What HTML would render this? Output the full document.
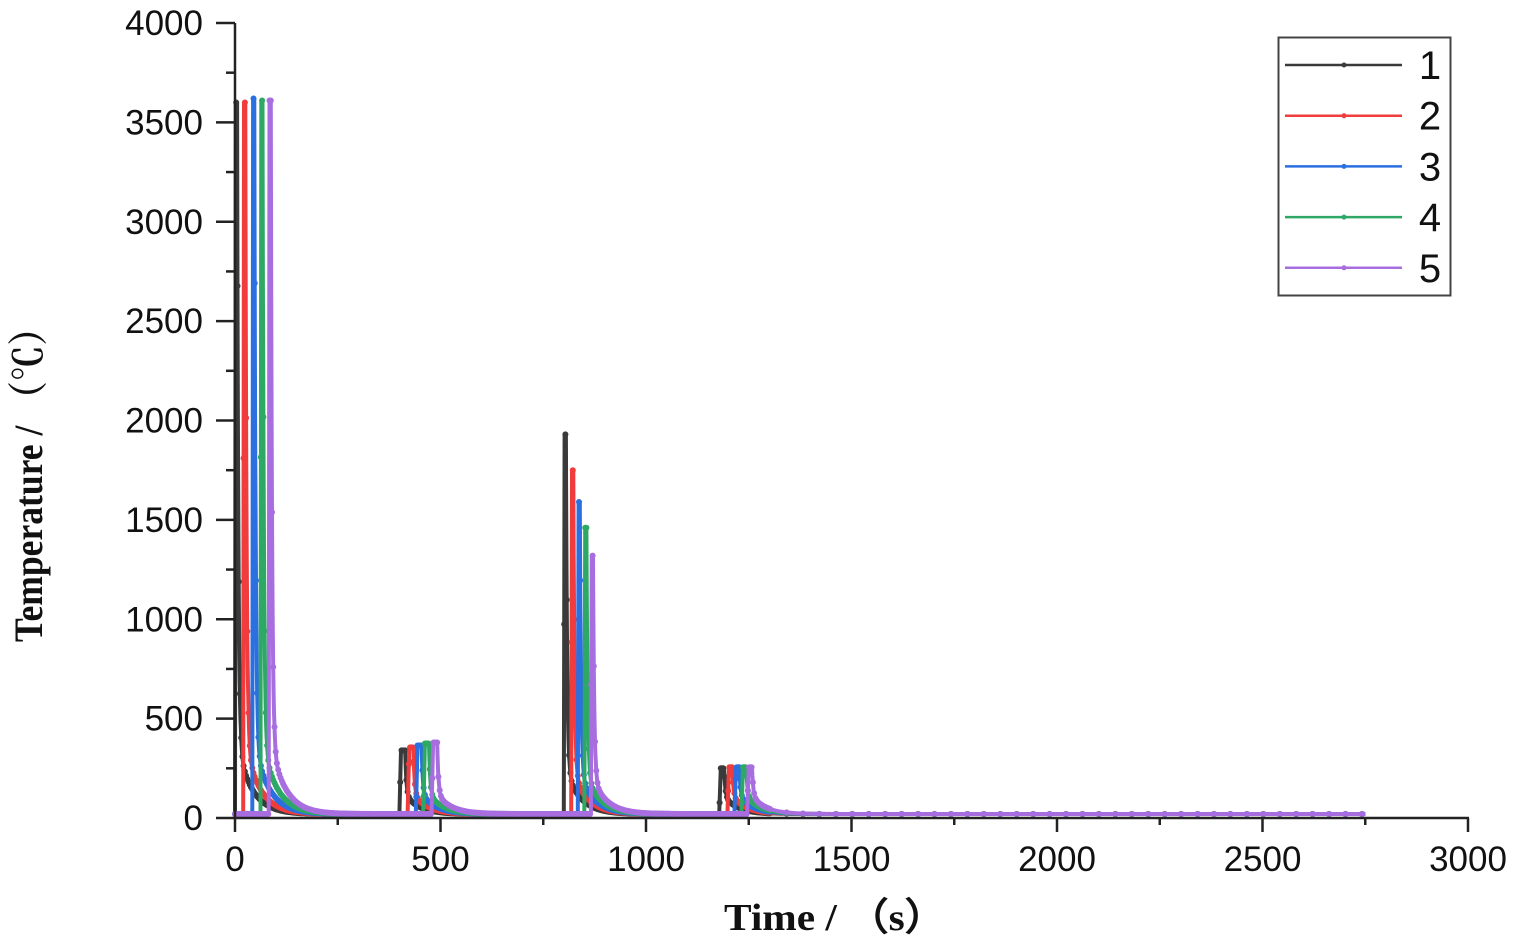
<!DOCTYPE html>
<html><head><meta charset="utf-8"><style>
html,body{margin:0;padding:0;background:#fff;}
svg{display:block;}
</style></head><body>
<svg id="s" width="1526" height="951" xmlns="http://www.w3.org/2000/svg">
<rect width="1526" height="951" fill="#fff"/>
<g id="plot"></g>
<g id="axes" stroke="#222" stroke-width="2.5" fill="none"></g>
<g id="lab" font-family="Liberation Sans, sans-serif" font-size="35" fill="#111"></g>
<text x="835" y="930" text-anchor="middle" font-family="Liberation Serif, serif" font-weight="bold" font-size="38" fill="#111" textLength="222" lengthAdjust="spacingAndGlyphs">Time / （s）</text>
<text transform="translate(42,476) rotate(-90)" text-anchor="middle" font-family="Liberation Serif, 'Noto Serif CJK SC', serif" font-weight="bold" font-size="40" fill="#111" textLength="332" lengthAdjust="spacingAndGlyphs">Temperature / （℃）</text>
<rect x="1278.5" y="37.5" width="172" height="258" fill="#fff" stroke="#444" stroke-width="2"/>
<g id="leg"></g>
</svg>
<script>
const X0=235,XS=1233/3000,Y0=818,YS=795/4000;
const px=t=>X0+t*XS, py=v=>Y0-v*YS;
const cols=['#3a3a3a','#f03c3c','#2b6fe0','#2ea865','#a86ee0'];
const groups=[
 {s:[0,20,42,62,82],p:[3600,3600,3620,3610,3610],rise:2,hold:3},
 {s:[400,420,440,458,478],p:[340,355,365,375,380],rise:4,hold:10},
 {s:[800,818,834,850,866],p:[1930,1750,1590,1460,1320],rise:2,hold:3},
 {s:[1178,1198,1215,1232,1246],p:[250,255,255,255,255],rise:4,hold:8}];
function T(i,t){
  let v=20;
  for(const g of groups){
    const s=g.s[i],P=g.p[i],r=g.rise,h=g.hold;
    if(t<s) continue;
    const dt=t-s;
    let c;
    if(dt<=r) c=(P-20)*dt/r;
    else if(dt<=r+h) c=P-20;
    else{const d=dt-r-h;const A=Math.min(0.08*P+70,P*0.35);c=(P-20-A)*Math.exp(-d/3)+A*Math.exp(-d/35);}
    v=Math.max(v,20+c);
  }
  return v;
}
const NS='http://www.w3.org/2000/svg';
const plot=document.getElementById('plot');
function el(n,a,p){const e=document.createElementNS(NS,n);for(const k in a)e.setAttribute(k,a[k]);p.appendChild(e);return e;}
for(let i=0;i<5;i++){
  let d='';
  for(let t=0;t<=2750;t+=0.5){d+=(t?'L':'M')+px(t).toFixed(1)+' '+py(T(i,t)).toFixed(1);}
  el('path',{d:d,fill:'none',stroke:cols[i],'stroke-width':4,'stroke-linejoin':'round'},plot);
  for(let t=0;t<=2750;t+=(t<1300?3:40)){
    el('circle',{cx:px(t).toFixed(1),cy:py(T(i,t)).toFixed(1),r:3,fill:cols[i]},plot);
  }
}
const ax=document.getElementById('axes'),lab=document.getElementById('lab');
el('path',{d:`M${X0} 23V${Y0}H1469`},ax);
for(let v=0;v<=4000;v+=250){const y=py(v);const maj=v%500==0;el('line',{x1:X0-(maj?19:9),x2:X0,y1:y,y2:y},ax);
 if(maj){const t=el('text',{x:203,y:y+12,'text-anchor':'end'},lab);t.textContent=v;}}
for(let t=0;t<=3000;t+=250){const x=px(t);const maj=t%500==0;el('line',{x1:x,x2:x,y1:Y0,y2:Y0+(maj?14:7)},ax);
 if(maj){const e=el('text',{x:x,y:871,'text-anchor':'middle'},lab);e.textContent=t;}}
const leg=document.getElementById('leg');
for(let i=0;i<5;i++){const y=65+i*50.7;
 el('line',{x1:1285,x2:1402,y1:y,y2:y,stroke:cols[i],'stroke-width':2.5},leg);
 el('circle',{cx:1344,cy:y,r:2.5,fill:cols[i]},leg);
 const t=el('text',{x:1430,y:y+14,'text-anchor':'middle','font-family':'Liberation Sans, sans-serif','font-size':40,fill:'#111'},leg);t.textContent=i+1;}
</script>
</body></html>
